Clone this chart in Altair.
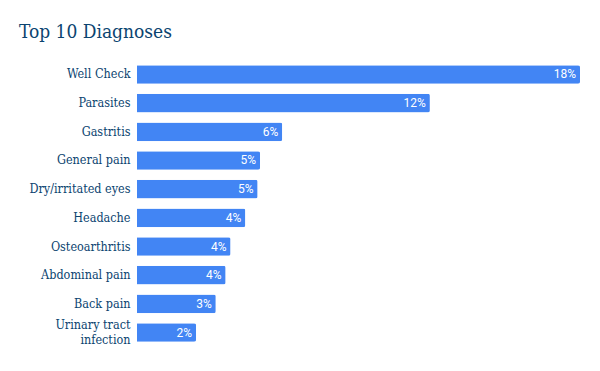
import altair as alt
import pandas as pd

diagnoses = ["Well Check", "Parasites", "Gastritis", "General pain", "Dry/irritated eyes",
             "Headache", "Osteoarthritis", "Abdominal pain", "Back pain", "Urinary tract infection"]
shares = [18.0, 11.9, 5.9, 5.0, 4.9, 4.4, 3.8, 3.6, 3.2, 2.4]
labels = ["18%", "12%", "6%", "5%", "5%", "4%", "4%", "4%", "3%", "2%"]

df = pd.DataFrame({"diagnosis": diagnoses, "share": shares, "label": labels})

TEXT = "#0b4470"
BLUE = "#4285f4"

y = alt.Y("diagnosis:N", sort=diagnoses, title=None,
          scale=alt.Scale(paddingInner=0.35, paddingOuter=0.18),
          axis=alt.Axis(domain=False, ticks=False, labelPadding=7, labelFont="DejaVu Serif Condensed",
                        labelFontSize=12.5, labelColor=TEXT, labelLineHeight=15,
                        labelOffset={"condition": {"test": "datum.value == 'Urinary tract infection'", "value": -7.5},
                                     "value": 0},
                        labelExpr="datum.label == 'Urinary tract infection' ? ['Urinary tract', 'infection'] : datum.label"))
x = alt.X("share:Q", title=None, scale=alt.Scale(domain=[0, 18], nice=False), axis=None)

bars = alt.Chart(df).mark_bar(color=BLUE, cornerRadiusEnd=2).encode(x=x, y=y)
text = alt.Chart(df).mark_text(align="right", dx=-4, color="white", font="Roboto", fontSize=12).encode(
    x=x, y=y, text="label:N")

chart = (bars + text).properties(
    width=443, height=287,
    title=alt.TitleParams("Top 10 Diagnoses", anchor="start", frame="group", font="DejaVu Serif Condensed",
                          fontSize=19, fontWeight="normal", color=TEXT, dx=-118, offset=18),
    padding={"left": 137, "top": 60, "right": 20, "bottom": 24},
    autosize=alt.AutoSizeParams(type="none"),
).configure_view(stroke=None)

chart.save("out.html", embed_options={"renderer": "svg", "actions": False})
